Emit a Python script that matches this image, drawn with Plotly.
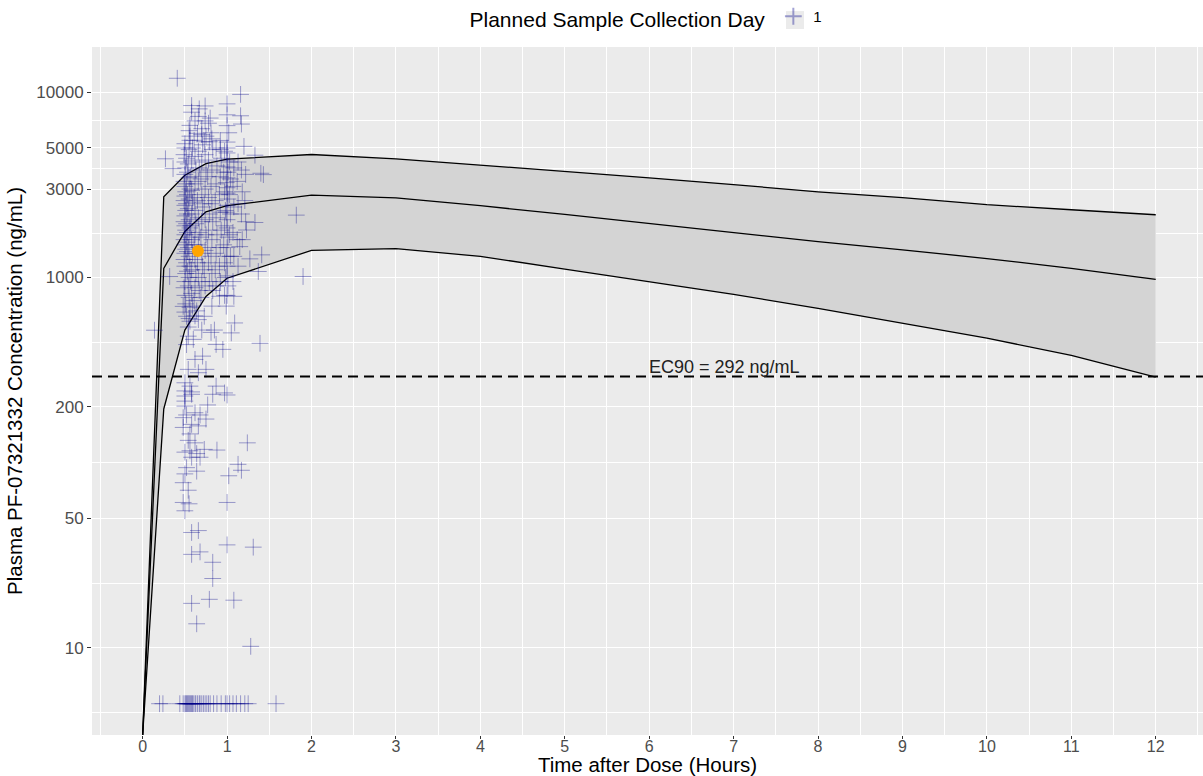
import math
import plotly.graph_objects as go

# ---------------- data ----------------
profile_time = [0, 0.25, 0.5, 0.75, 1, 2, 3, 4, 5, 6, 7, 8, 9, 10, 11, 12]
# value at time 0 is below the axis floor (concentration 0 cannot be drawn on a log axis)
profile_upper = [3.39, 2725, 3560, 4110, 4350, 4610, 4370, 4050, 3720, 3450, 3170, 2900, 2700, 2470, 2320, 2180]
profile_median = [3.39, 1120, 1770, 2260, 2440, 2780, 2690, 2440, 2190, 1950, 1750, 1560, 1410, 1265, 1120, 975]
profile_lower = [3.39, 195, 520, 790, 990, 1400, 1430, 1300, 1110, 950, 810, 680, 565, 470, 380, 290]

obs_time = [
    # scattered / outlying points
    0.41, 1.16, 0.58, 0.74, 0.67, 1.00, 1.00, 0.80, 1.16, 1.17, 0.56, 0.70, 0.81, 1.02, 0.56, 0.75,
    0.50, 0.92, 1.00, 1.20, 0.27, 0.36, 1.33, 1.43, 1.40, 1.82, 1.33, 1.27, 1.41, 1.15, 1.23, 1.37,
    1.90, 0.32, 0.14, 1.09, 1.05, 1.39,
    # dense column near 0.5 h
    0.50, 0.49, 0.50, 0.51, 0.50, 0.49, 0.50, 0.51, 0.50, 0.49, 0.50, 0.51, 0.50, 0.49, 0.50, 0.51,
    0.50, 0.49, 0.50, 0.51, 0.50, 0.49, 0.50, 0.51, 0.50, 0.49, 0.50, 0.51, 0.50,
    0.52, 0.53, 0.52, 0.53, 0.52, 0.53, 0.52, 0.53, 0.52, 0.53, 0.52, 0.53,
    0.55, 0.56, 0.55, 0.54, 0.55, 0.56, 0.55, 0.54, 0.55, 0.56, 0.55, 0.54, 0.55, 0.56, 0.55, 0.54,
    0.55, 0.56, 0.55, 0.54,
    0.58, 0.59, 0.58, 0.57, 0.58, 0.59, 0.58, 0.57, 0.58, 0.59, 0.58, 0.57, 0.58, 0.59,
    0.62, 0.61, 0.62, 0.63, 0.62, 0.61, 0.62, 0.63, 0.62, 0.61, 0.62, 0.63, 0.62, 0.61, 0.62,
    0.66, 0.65, 0.66, 0.67, 0.66, 0.65, 0.66, 0.67, 0.66, 0.65, 0.66, 0.67,
    0.70, 0.71, 0.70, 0.69, 0.70, 0.71, 0.70, 0.69, 0.70, 0.71, 0.70, 0.69,
    0.74, 0.73, 0.74, 0.75, 0.74, 0.73, 0.74, 0.75, 0.74, 0.73, 0.74,
    0.78, 0.79, 0.78, 0.77, 0.78, 0.79, 0.78, 0.77, 0.78, 0.79,
    0.82, 0.83, 0.82, 0.81, 0.82, 0.83, 0.82, 0.81, 0.82, 0.83, 0.82,
    0.87, 0.88, 0.87, 0.86, 0.87, 0.88, 0.87, 0.86, 0.87,
    0.92, 0.93, 0.92, 0.91, 0.92, 0.93, 0.92, 0.91, 0.92,
    0.97, 0.96, 0.97, 0.98, 0.97, 0.96, 0.97, 0.98, 0.97,
    # dense column near 1 h
    1.00, 1.00, 1.00, 1.01, 1.00, 0.99, 1.00, 1.00, 1.01, 1.00, 0.99, 1.00, 1.00, 1.01, 1.00, 0.99,
    1.00, 1.00, 1.01, 1.00, 0.99, 1.00, 1.00,
    1.03, 1.04, 1.03, 1.04, 1.03, 1.04,
    1.08, 1.07, 1.08, 1.07, 1.08, 1.07, 1.08,
    1.13, 1.12, 1.13, 1.12, 1.13,
    1.17, 1.18, 1.17, 1.18,
    1.22, 1.21, 1.22,
    # mid-range points below the band
    0.48, 0.52, 0.56, 0.66, 0.54, 0.60, 0.52, 0.73, 0.70, 0.64,
    0.91, 0.81, 0.85, 0.87, 0.95, 0.62, 0.71, 0.54, 0.66, 0.75, 0.50, 0.56, 0.87, 0.97, 0.58, 0.50,
    # low concentrations
    0.50, 0.58, 0.83, 1.00, 0.50, 0.50, 0.77, 0.62, 0.68, 0.75, 0.52, 0.48, 0.58, 0.66, 0.48, 0.56,
    0.54, 0.62, 1.24, 0.50, 0.56, 0.64, 0.68, 0.58, 0.73, 0.88, 1.13, 1.17, 1.02, 0.52, 0.50, 0.64,
    0.48, 0.54, 0.48, 0.55, 0.50, 1.00, 0.58, 0.66, 1.00, 1.31, 0.58, 0.68, 0.83, 0.83, 0.58, 0.79,
    1.08, 0.64, 1.28,
]
obs_conc = [
    11890, 9730, 8470, 8430, 8130, 8650, 7550, 7250, 7460, 6730, 6620, 6350, 6040, 6040, 5790, 5790,
    5270, 5490, 5380, 5100, 4370, 3870, 4570, 3590, 3650, 2170, 1980, 1260, 1324, 1467, 1803, 1077,
    1012, 1012, 519, 568, 502, 441,
    5000, 4600, 4200, 3900, 3600, 3300, 3100, 2900, 2750, 2600, 2450, 2300, 2150, 2000, 1900, 1800,
    1700, 1600, 1500, 1420, 1350, 1250, 1150, 1050, 950, 880, 800, 720, 650,
    4400, 3700, 3200, 2800, 2500, 2200, 1950, 1750, 1550, 1380, 1200, 1080,
    6200, 5500, 4900, 4100, 3450, 3000, 2650, 2350, 2050, 1850, 1650, 1450, 1300, 1150, 1000, 900,
    780, 690, 600, 540,
    7800, 5000, 4300, 3500, 2950, 2550, 2200, 1900, 1600, 1350, 1100, 950, 820, 700,
    7000, 5500, 4500, 3800, 3200, 2700, 2300, 1950, 1700, 1500, 1250, 1050, 880, 750, 620,
    7400, 6000, 4800, 3900, 3300, 2600, 2100, 1750, 1500, 1200, 1000, 850,
    5900, 5200, 4200, 3400, 2800, 2400, 2000, 1650, 1350, 1150, 950, 780,
    7000, 5400, 4600, 3700, 3000, 2500, 2050, 1700, 1400, 1100, 900,
    6800, 5400, 4300, 3500, 2700, 2200, 1800, 1450, 1200, 950,
    5600, 4900, 3800, 3100, 2500, 2000, 1600, 1300, 1050, 850, 700,
    5000, 4000, 3200, 2600, 2100, 1700, 1350, 1100, 900,
    4900, 4400, 3500, 2800, 2250, 1800, 1450, 1150, 950,
    4800, 3700, 2900, 2300, 1900, 1500, 1200, 1000, 800,
    4700, 4300, 3950, 3700, 3450, 3250, 3050, 2850, 2650, 2450, 2250, 2050, 1850, 1650, 1450, 1300,
    1150, 1020, 900, 800, 700, 6600, 5000,
    4200, 3400, 2800, 2200, 1700, 1300,
    3900, 3100, 2400, 1750, 1300, 950, 791,
    4200, 3300, 2500, 1600, 1150,
    3800, 2900, 2200, 1600,
    3600, 2600, 2000,
    698, 617, 580, 592, 482, 463, 434, 617, 520, 660,
    791, 505, 520, 435, 409, 361, 376, 319, 306, 319, 270, 259, 259, 238, 241, 244,
    229, 234, 234, 232, 215, 202, 205, 186, 181, 172, 181, 175, 161, 158, 155, 143,
    132, 128, 128, 114, 116, 112, 107, 107, 118, 117, 98, 91, 85, 94, 87, 90,
    78, 71, 61, 60, 55, 61, 42, 43, 36, 35, 32, 33, 29, 23.7, 17.4, 18.3,
    18.1, 13.5, 10.2,
]

# samples below the limit of quantification, plotted at 5 ng/mL
blq_time = [0.20, 0.24, 0.44, 0.48, 0.50, 0.51, 0.52, 0.53, 0.54, 0.55, 0.56, 0.57, 0.58, 0.59,
            0.60, 0.62, 0.63, 0.65, 0.67, 0.68, 0.70, 0.72, 0.74, 0.76, 0.78, 0.80, 0.84, 0.88,
            0.93, 0.98, 1.00, 1.03, 1.07, 1.11, 1.16, 1.21, 1.25, 1.58]
blq_conc = [5] * len(blq_time)

highlight_time = [0.655]
highlight_conc = [1390]

ec90_value = 292
ec90_label = "EC90 = 292 ng/mL"
ec90_label_time = 6.89

x_ticks = list(range(0, 13))
x_minor = [i + 0.5 for i in range(-1, 13)]
y_ticks = [10, 50, 200, 1000, 3000, 5000, 10000]
y_minor = [4.47, 22.36, 100, 447.2, 1732, 3873, 7071]

# ---------------- figure ----------------
FONT = "Liberation Sans, Arial, Helvetica, sans-serif"
fig = go.Figure()

fig.add_trace(go.Scatter(x=profile_time, y=profile_lower, mode="lines",
                         line=dict(color="black", width=1.3), showlegend=False, hoverinfo="skip"))
fig.add_trace(go.Scatter(x=profile_time, y=profile_upper, mode="lines", fill="tonexty",
                         fillcolor="#d4d4d4",
                         line=dict(color="black", width=1.3), showlegend=False, hoverinfo="skip"))
fig.add_trace(go.Scatter(x=profile_time, y=profile_median, mode="lines",
                         line=dict(color="black", width=1.3), showlegend=False, hoverinfo="skip"))

fig.add_trace(go.Scatter(x=obs_time + blq_time, y=obs_conc + blq_conc, mode="markers", name="1",
                         marker=dict(symbol="cross-thin", size=12, color="rgba(0,0,139,0.36)",
                                     line=dict(width=1, color="rgba(0,0,139,0.36)")),
                         showlegend=True))

fig.add_trace(go.Scatter(x=highlight_time, y=highlight_conc, mode="markers",
                         marker=dict(symbol="circle", size=12, color="#FFA500"),
                         showlegend=False))

fig.add_shape(type="line", xref="paper", x0=0, x1=1, yref="y", y0=ec90_value, y1=ec90_value,
              line=dict(color="black", width=2, dash="10px,6px"), layer="above")

# grey key box behind the legend symbol (ggplot legend key background)
fig.add_shape(type="rect", xref="paper", yref="paper", x0=0.6247, x1=0.6409, y0=1.0261, y1=1.0522,
              fillcolor="#EBEBEB", line=dict(width=0), layer="above")

fig.add_annotation(x=ec90_label_time, y=math.log10(ec90_value), text=ec90_label, showarrow=False,
                   yanchor="bottom", yshift=-3, font=dict(family=FONT, size=18, color="#222222"))

fig.update_layout(
    width=1203, height=776,
    margin=dict(l=92, r=0, t=45, b=41),
    paper_bgcolor="white", plot_bgcolor="#EBEBEB",
    font=dict(family=FONT, color="black"),
    legend=dict(orientation="h", x=0.5, xanchor="center", y=1.041, yanchor="middle",
                title=dict(text="Planned Sample Collection Day", side="left",
                           font=dict(size=21, family=FONT, color="black")),
                font=dict(size=15, family=FONT, color="black"),
                bgcolor="rgba(0,0,0,0)", itemsizing="constant"),
)

fig.update_xaxes(
    range=[-0.6, 12.56], tickmode="array", tickvals=x_ticks,
    ticktext=[str(v) for v in x_ticks],
    showgrid=True, gridcolor="white", gridwidth=1.3, zeroline=False,
    minor=dict(tickvals=x_minor, showgrid=True, gridcolor="white", gridwidth=0.6, ticklen=0),
    ticks="outside", ticklen=3, tickcolor="#333333", tickwidth=1,
    ticklabelstandoff=-6,
    tickfont=dict(size=16, color="#4D4D4D", family=FONT),
    title=dict(text="Time after Dose (Hours)", font=dict(size=20.5, family=FONT, color="black"),
               standoff=5),
    showline=False, automargin=False,
)
fig.update_yaxes(
    type="log", range=[0.53, 4.244], tickmode="array", tickvals=y_ticks,
    ticktext=[str(v) for v in y_ticks],
    showgrid=True, gridcolor="white", gridwidth=1.3, zeroline=False,
    minor=dict(tickvals=y_minor, showgrid=True, gridcolor="white", gridwidth=0.6, ticklen=0),
    ticks="outside", ticklen=4, tickcolor="#333333", tickwidth=1,
    tickfont=dict(size=17, color="#4D4D4D", family=FONT),
    title=dict(text="Plasma PF-07321332 Concentration (ng/mL)",
               font=dict(size=20.5, family=FONT, color="black"), standoff=8),
    showline=False, automargin=False,
)

fig.write_html("out.html")
